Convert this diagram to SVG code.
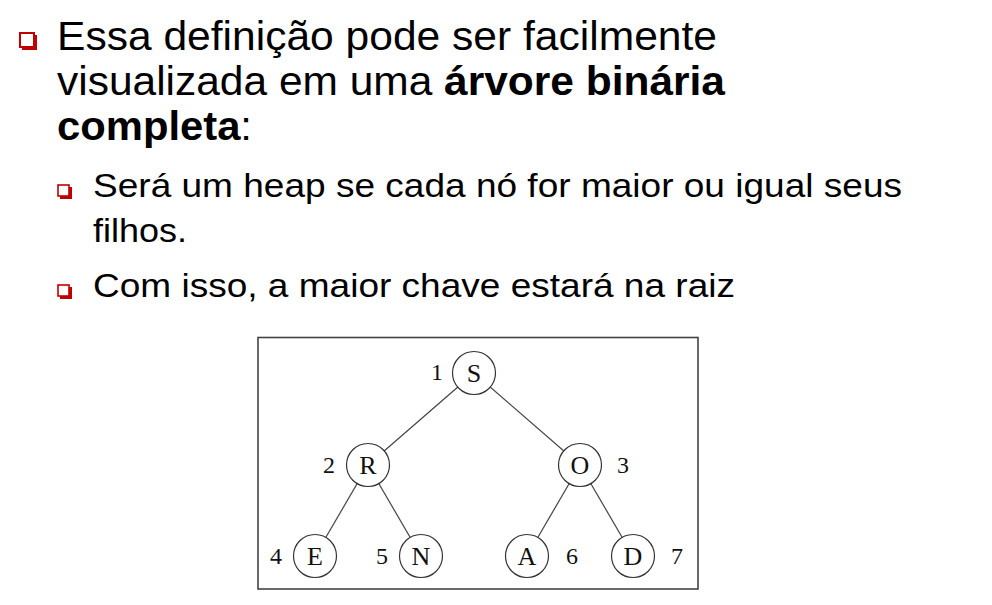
<svg xmlns="http://www.w3.org/2000/svg" width="992" height="605" viewBox="0 0 992 605">
<style>
.t1{font-family:"Liberation Sans",Arial,sans-serif;font-size:41px;fill:#000}
.t2{font-family:"Liberation Sans",Arial,sans-serif;font-size:34px;fill:#000}
.b{font-weight:bold}
.node circle{fill:#fff;stroke:#333;stroke-width:1.2}
.lt{font-family:"Liberation Serif","Times New Roman",serif;font-size:26px;fill:#111;text-anchor:middle}
.num{font-family:"Liberation Serif","Times New Roman",serif;font-size:24px;fill:#111;text-anchor:middle}
.edge{stroke:#444;stroke-width:1.2}
.sq{fill:#fff;stroke:#c00000}
</style>
<rect width="992" height="605" fill="#fff"/>
<g id="bullets">
<rect x="22" y="35" width="15" height="15" fill="#c00000"/>
<rect x="20" y="33" width="14" height="14" class="sq" stroke-width="2"/>
<rect x="60" y="187" width="12" height="12" fill="#c00000"/>
<rect x="58" y="185" width="11" height="11" class="sq" stroke-width="1.6"/>
<rect x="60" y="287" width="12" height="12" fill="#c00000"/>
<rect x="58" y="285" width="11" height="11" class="sq" stroke-width="1.6"/>
</g>
<g id="text">
<text class="t1" x="57" y="50" textLength="660" lengthAdjust="spacingAndGlyphs">Essa definição pode ser facilmente</text>
<text class="t1" x="57" y="95" textLength="668" lengthAdjust="spacingAndGlyphs">visualizada em uma <tspan class="b">árvore binária</tspan></text>
<text class="t1" x="57" y="140" textLength="195" lengthAdjust="spacingAndGlyphs"><tspan class="b">completa</tspan>:</text>
<text class="t2" x="93" y="197" textLength="809" lengthAdjust="spacingAndGlyphs">Será um heap se cada nó for maior ou igual seus</text>
<text class="t2" x="93" y="242" textLength="94" lengthAdjust="spacingAndGlyphs">filhos.</text>
<text class="t2" x="93" y="297" textLength="642" lengthAdjust="spacingAndGlyphs">Com isso, a maior chave estará na raiz</text>
</g>
<rect id="frame" x="258" y="337.5" width="440" height="251.5" fill="none" stroke="#444" stroke-width="1.6"/>
<g id="connectors">
<line class="edge" x1="474" y1="373" x2="368" y2="465"/>
<line class="edge" x1="474" y1="373" x2="580" y2="465"/>
<line class="edge" x1="368" y1="465" x2="315" y2="556"/>
<line class="edge" x1="368" y1="465" x2="421" y2="556"/>
<line class="edge" x1="580" y1="465" x2="527" y2="556"/>
<line class="edge" x1="580" y1="465" x2="633" y2="556"/>
</g>
<g id="n1" class="node"><circle cx="474" cy="373" r="21.5"/><text class="lt" x="474" y="382">S</text><text class="num" x="437" y="380">1</text></g>
<g id="n2" class="node"><circle cx="368" cy="465" r="21.5"/><text class="lt" x="368" y="474">R</text><text class="num" x="329" y="473">2</text></g>
<g id="n3" class="node"><circle cx="580" cy="465" r="21.5"/><text class="lt" x="580" y="474">O</text><text class="num" x="623" y="473">3</text></g>
<g id="n4" class="node"><circle cx="315" cy="556" r="21.5"/><text class="lt" x="315" y="565">E</text><text class="num" x="276" y="564">4</text></g>
<g id="n5" class="node"><circle cx="421" cy="556" r="21.5"/><text class="lt" x="421" y="565">N</text><text class="num" x="382" y="564">5</text></g>
<g id="n6" class="node"><circle cx="527" cy="556" r="21.5"/><text class="lt" x="527" y="565">A</text><text class="num" x="572" y="564">6</text></g>
<g id="n7" class="node"><circle cx="633" cy="556" r="21.5"/><text class="lt" x="633" y="565">D</text><text class="num" x="677" y="564">7</text></g>
</svg>
